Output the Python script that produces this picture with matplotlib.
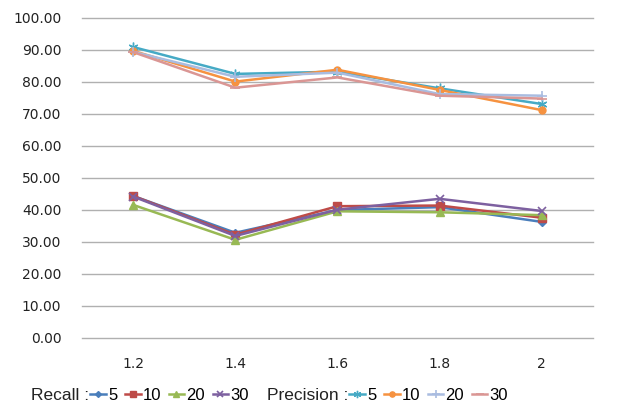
import matplotlib
matplotlib.use('Agg')
import matplotlib.pyplot as plt
from matplotlib import font_manager

# data
x_labels = ['1.2', '1.4', '1.6', '1.8', '2']

recall_5 = [44.3, 32.8, 39.9, 40.8, 36.2]
recall_10 = [44.3, 32.2, 41.1, 41.3, 37.5]
recall_20 = [41.5, 30.6, 39.5, 39.2, 38.3]
recall_30 = [44.1, 31.8, 40.0, 43.4, 39.6]

prec_5 = [90.8, 82.4, 83.1, 77.9, 73.0]
prec_10 = [89.6, 80.0, 83.7, 77.4, 71.1]
prec_20 = [89.3, 81.5, 82.8, 76.1, 75.6]
prec_30 = [89.2, 78.1, 81.3, 75.6, 74.7]

names = {f.name for f in font_manager.fontManager.ttflist}
legend_font = 'Liberation Sans Narrow' if 'Liberation Sans Narrow' in names else 'Liberation Sans'

W, H = 622, 408
fig = plt.figure(figsize=(W / 100, H / 100), dpi=100)
ax = fig.add_axes([0.132, 0.172, 0.821, 0.785])

xs = range(len(x_labels))

# recall series
ax.plot(xs, recall_5, color='#4A7EBB', lw=1.8, marker='D', ms=4, label='5')
ax.plot(xs, recall_10, color='#BE4B48', lw=1.8, marker='s', ms=6, label='10')
ax.plot(xs, recall_20, color='#98B954', lw=1.8, marker='^', ms=6, label='20')
ax.plot(xs, recall_30, color='#7D60A0', lw=1.8, marker='x', ms=6, mew=1.2, label='30')

# precision series
ax.plot(xs, prec_5, color='#46AAC5', lw=1.8, marker=(6, 2, 0), ms=7, mew=1, label='5')
ax.plot(xs, prec_10, color='#F69240', lw=1.8, marker='o', ms=5, label='10')
ax.plot(xs, prec_20, color='#A9BCE0', lw=1.8, marker='+', ms=7, mew=1.2, label='20')
ax.plot(xs, prec_30, color='#DA9694', lw=1.8, marker='_', ms=7, mew=1.2, label='30')

ax.set_xlim(-0.5, len(x_labels) - 0.5)
ax.set_ylim(0, 100)
ax.set_yticks(range(0, 101, 10))
ax.set_yticklabels(['%.2f' % v for v in range(0, 101, 10)])
ax.set_xticks(list(xs))
ax.set_xticklabels(x_labels)
ax.tick_params(length=0, labelsize=10, colors='#222222')
ax.tick_params(axis='y', pad=15)
ax.tick_params(axis='x', pad=14)
ax.grid(axis='y', color='#B0B0B0', lw=1.0)
for gl in ax.get_ygridlines():
    gl.set_clip_on(False)
ax.set_axisbelow(True)
for s in ax.spines.values():
    s.set_visible(False)

# legend: caption text + one legend per group, laid out left to right
h, l = ax.get_legend_handles_labels()
leg_y = 0.03
leg_kw = dict(loc='center left', ncol=4, frameon=False,
              prop={'family': legend_font, 'size': 12},
              handlelength=0.95, handletextpad=0.12, columnspacing=0.45,
              markerscale=0.75, borderpad=0, borderaxespad=0)
cap_kw = dict(ha='left', va='center', family=legend_font, fontsize=12.5,
              color='#222222')

r = fig.canvas.get_renderer()
t1 = fig.text(31 / W, leg_y, 'Recall :', **cap_kw)
x = t1.get_window_extent(r).x1 + 1
leg1 = fig.legend(h[:4], l[:4], bbox_to_anchor=(x / W, leg_y), **leg_kw)
x = leg1.get_window_extent(r).x1 + 18
t2 = fig.text(x / W, leg_y, 'Precision :', **cap_kw)
x = t2.get_window_extent(r).x1 + 1
leg2 = fig.legend(h[4:], l[4:], bbox_to_anchor=(x / W, leg_y), **leg_kw)

fig.savefig('out.png', dpi=100)
